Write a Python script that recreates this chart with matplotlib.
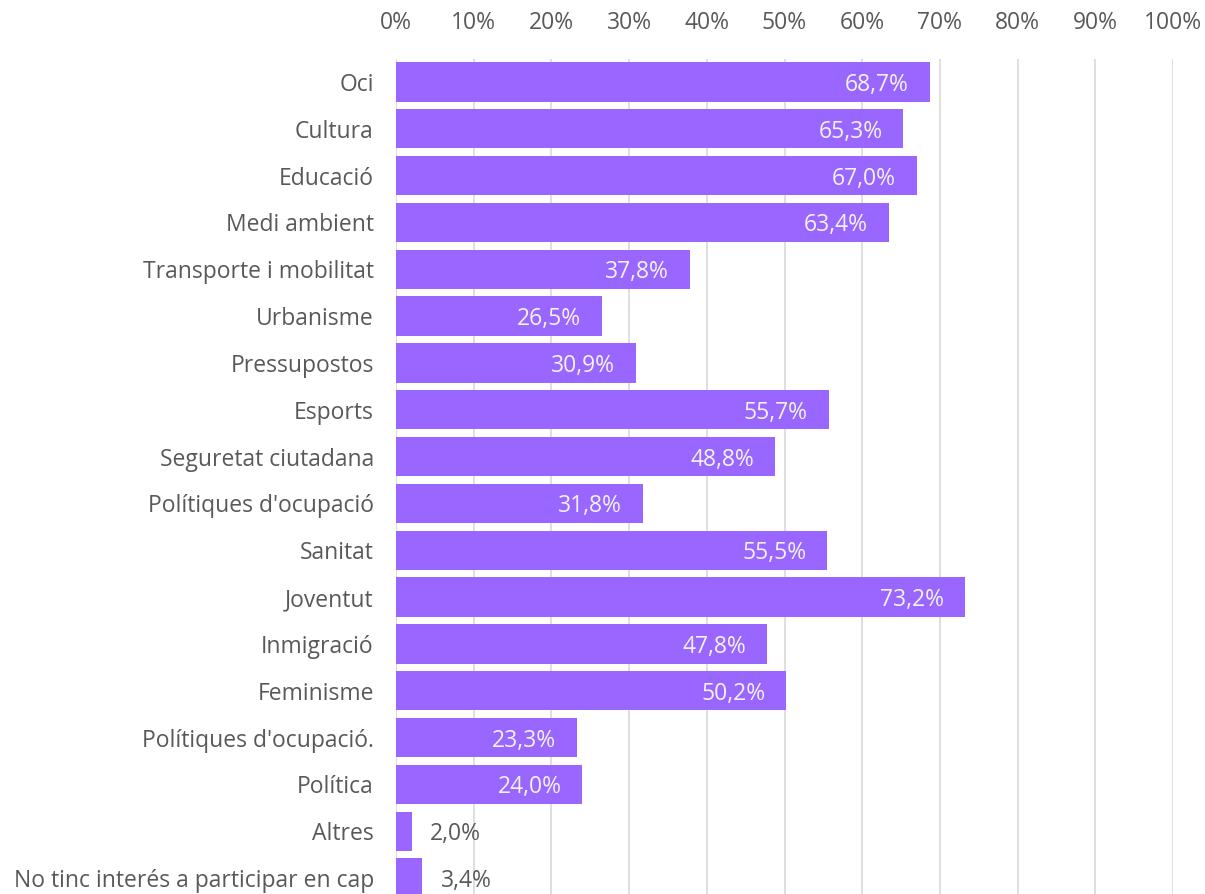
import matplotlib.pyplot as plt
from matplotlib.ticker import FuncFormatter

categories = [
    "Oci", "Cultura", "Educació", "Medi ambient", "Transporte i mobilitat",
    "Urbanisme", "Pressupostos", "Esports", "Seguretat ciutadana",
    "Polítiques d'ocupació", "Sanitat", "Joventut", "Inmigració",
    "Feminisme", "Polítiques d'ocupació.", "Política", "Altres",
    "No tinc interés a participar en cap",
]
values = [68.7, 65.3, 67.0, 63.4, 37.8, 26.5, 30.9, 55.7, 48.8,
          31.8, 55.5, 73.2, 47.8, 50.2, 23.3, 24.0, 2.0, 3.4]

bar_color = "#9966FF"
text_color = "#595959"
plt.rcParams['font.family'] = ['Open Sans', 'DejaVu Sans']
fs = 16.5

fig = plt.figure(figsize=(12.05, 8.94), dpi=100)
ax = fig.add_axes([396 / 1205, -7.4 / 894, 777 / 1205, 842.8 / 894])

y = list(range(len(categories)))
ax.barh(y, values, height=0.84, color=bar_color, zorder=2)

ax.set_xlim(0, 100)
ax.set_ylim(len(categories) - 0.5, -0.5)
ax.set_yticks(y)
ax.set_yticklabels(categories)
ax.set_xticks(range(0, 101, 10))
ax.xaxis.set_major_formatter(FuncFormatter(lambda v, p: f"{v:.0f}%"))
ax.xaxis.tick_top()
ax.tick_params(axis='x', length=0, pad=17, labelsize=fs, colors=text_color)
ax.tick_params(axis='y', length=0, pad=16, labelsize=fs, colors=text_color)
ax.grid(axis='x', color="#d9d9d9", linewidth=1.2, zorder=0)
for s in ax.spines.values():
    s.set_visible(False)
ax.axvline(0, color="#d9d9d9", linewidth=1.2, zorder=1)

for i, v in enumerate(values):
    lbl = f"{v:.1f}%".replace(".", ",")
    if v > 10:
        ax.annotate(lbl, (v, i), xytext=(-15, 0), textcoords='offset points',
                    ha='right', va='center_baseline', color="#F2F2F2", fontsize=fs)
    else:
        ax.annotate(lbl, (v, i), xytext=(13, 0), textcoords='offset points',
                    ha='left', va='center_baseline', color=text_color, fontsize=fs)

fig.savefig("out.png", dpi=100)
